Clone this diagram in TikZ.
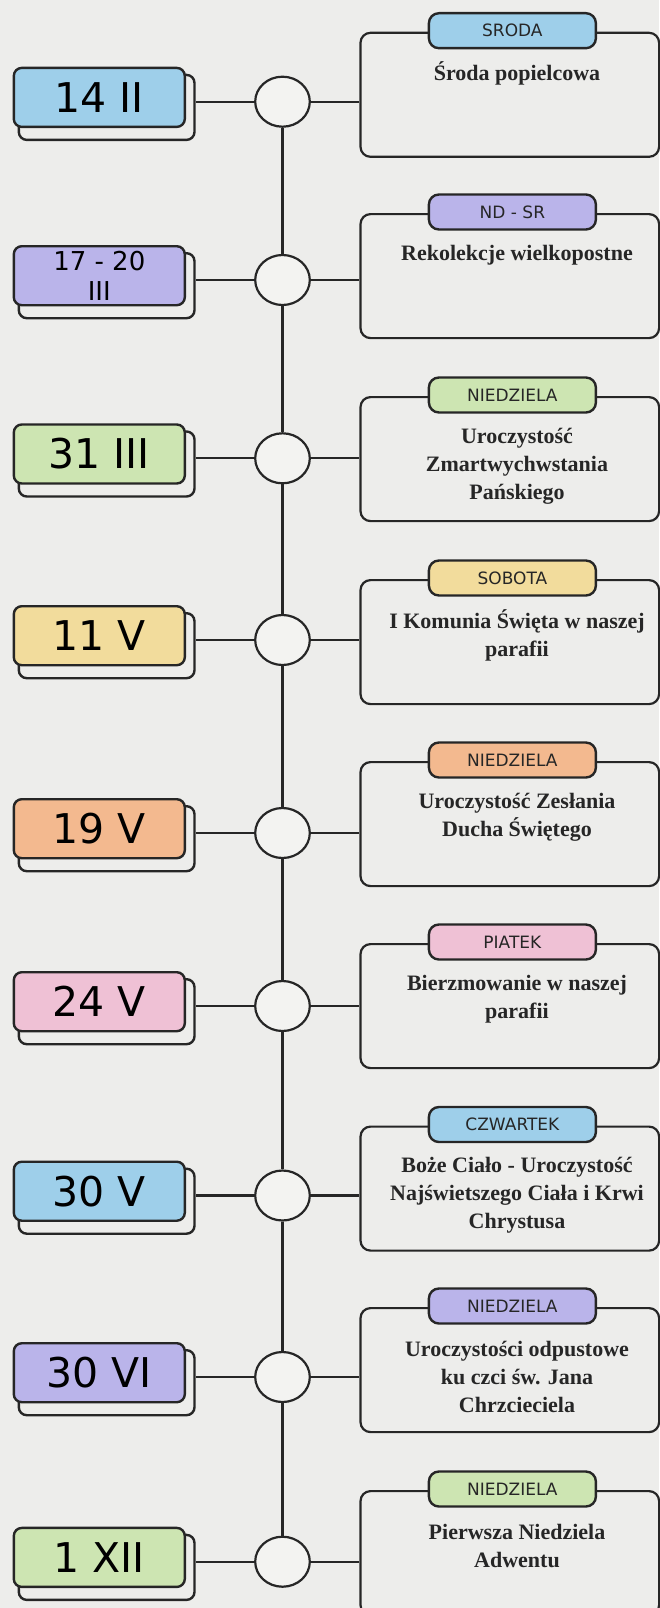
\documentclass[tikz,border=0pt]{standalone}
\usepackage{fontspec}
\usepackage{tikz}
\usetikzlibrary{shapes.geometric, positioning, calc}
\newfontfamily\dtfamily{DejaVu Sans}
\newfontfamily\tgfamily{DejaVu Sans}
\newfontfamily\evfamily{Liberation Serif}
\definecolor{paper}{RGB}{237,237,235}
\definecolor{dotfill}{RGB}{243,243,241}
\definecolor{inkdark}{RGB}{38,38,38}
\definecolor{lblue}{RGB}{158,207,234}
\definecolor{lpurple}{RGB}{186,180,234}
\definecolor{lgreen}{RGB}{205,229,178}
\definecolor{lyellow}{RGB}{242,220,156}
\definecolor{lorange}{RGB}{243,185,143}
\definecolor{lpink}{RGB}{239,193,213}
\tikzset{
  datebox/.style={rectangle,draw=inkdark,rounded corners=8pt,line width=2.4pt,minimum width=171pt,
    minimum height=59pt,anchor=north west,align=center,inner sep=0pt,text=black,
    font=\dtfamily\fontsize{41}{41}\selectfont},
  dateshadow/.style={rectangle,draw=inkdark,fill=paper,rounded corners=8pt,line width=2.4pt,
    minimum width=175.7pt,minimum height=65pt,anchor=north west},
  dot/.style={ellipse,draw=inkdark,fill=dotfill,minimum width=54.6pt,minimum height=50pt,
    line width=2.2pt,inner sep=0pt},
  eventbox/.style={rectangle,draw=inkdark,rounded corners=10pt,line width=2.2pt,
    minimum width=298.6pt,minimum height=124pt,anchor=north west},
  tagbox/.style={rectangle,draw=inkdark,rounded corners=10pt,line width=2.4pt,minimum width=167pt,
    minimum height=35pt,inner sep=0pt,text=inkdark,font=\tgfamily\fontsize{17}{17}\selectfont},
  evtext/.style={align=center,inner sep=0pt,text=inkdark,font=\evfamily\bfseries\fontsize{22}{28}\selectfont},
  line/.style={line width=2.2pt,color=inkdark}
}
\begin{document}
\begin{tikzpicture}[x=1pt,y=-1pt]
  \useasboundingbox (0,0) rectangle (659,1608);
  \fill[paper] (0,0) rectangle (659,1608);

  % 14 II
  \node[dateshadow] (s1) at (17.6,73.7) {};
  \node[datebox,fill=lblue] (d1) at (12.6,66.7) {14 II};
  \node[dot] (c1) at (282.5,101.7) {};
  \node[eventbox] (e1) at (359.4,31.7) {};
  \node[tagbox,fill=lblue] (g1) at (512.4,30.7) {SRODA};
  \node[evtext] (t1) at (517,73.7) {Środa popielcowa};

  % 17 - 20 III
  \node[dateshadow] (s2) at (17.6,252) {};
  \node[datebox,fill=lpurple,font=\dtfamily\fontsize{26}{30}\selectfont] (d2) at (12.6,245) {17 - 20\\III};
  \node[dot] (c2) at (282.5,280) {};
  \node[eventbox] (e2) at (359.4,213) {};
  \node[tagbox,fill=lpurple] (g2) at (512.4,212) {ND - SR};
  \node[evtext] (t2) at (517,255) {Rekolekcje wielkopostne};

  % 31 III
  \node[dateshadow] (s3) at (17.6,430.3) {};
  \node[datebox,fill=lgreen] (d3) at (12.6,423.3) {31 III};
  \node[dot] (c3) at (282.5,458.3) {};
  \node[eventbox] (e3) at (359.4,396) {};
  \node[tagbox,fill=lgreen] (g3) at (512.4,395) {NIEDZIELA};
  \node[evtext] (t3) at (517,466) {Uroczystość\\Zmartwychwstania\\Pańskiego};

  % 11 V
  \node[dateshadow] (s4) at (17.6,612) {};
  \node[datebox,fill=lyellow] (d4) at (12.6,605) {11 V};
  \node[dot] (c4) at (282.5,640) {};
  \node[eventbox] (e4) at (359.4,579) {};
  \node[tagbox,fill=lyellow] (g4) at (512.4,578) {SOBOTA};
  \node[evtext] (t4) at (517,635) {I Komunia Święta w naszej\\parafii};

  % 19 V
  \node[dateshadow] (s5) at (17.6,805) {};
  \node[datebox,fill=lorange] (d5) at (12.6,798) {19 V};
  \node[dot] (c5) at (282.5,833) {};
  \node[eventbox] (e5) at (359.4,761) {};
  \node[tagbox,fill=lorange] (g5) at (512.4,760) {NIEDZIELA};
  \node[evtext] (t5) at (517,817) {Uroczystość Zesłania\\Ducha Świętego};

  % 24 V
  \node[dateshadow] (s6) at (17.6,978) {};
  \node[datebox,fill=lpink] (d6) at (12.6,971) {24 V};
  \node[dot] (c6) at (282.5,1006) {};
  \node[eventbox] (e6) at (359.4,943) {};
  \node[tagbox,fill=lpink] (g6) at (512.4,942) {PIATEK};
  \node[evtext] (t6) at (517,999) {Bierzmowanie w naszej\\parafii};

  % 30 V
  \node[dateshadow] (s7) at (17.6,1167.5) {};
  \node[datebox,fill=lblue] (d7) at (12.6,1160.5) {30 V};
  \node[dot] (c7) at (282.5,1195.5) {};
  \node[eventbox] (e7) at (359.4,1125.5) {};
  \node[tagbox,fill=lblue] (g7) at (512.4,1124.5) {CZWARTEK};
  \node[evtext] (t7) at (517,1195.5) {Boże Ciało - Uroczystość\\Najświetszego Ciała i Krwi\\Chrystusa};

  % 30 VI
  \node[dateshadow] (s8) at (17.6,1349) {};
  \node[datebox,fill=lpurple] (d8) at (12.6,1342) {30 VI};
  \node[dot] (c8) at (282.5,1377) {};
  \node[eventbox] (e8) at (359.4,1307) {};
  \node[tagbox,fill=lpurple] (g8) at (512.4,1306) {NIEDZIELA};
  \node[evtext] (t8) at (517,1377) {Uroczystości odpustowe\\ku czci św. Jana\\Chrzcieciela};

  % 1 XII
  \node[dateshadow] (s9) at (17.6,1533.7) {};
  \node[datebox,fill=lgreen] (d9) at (12.6,1526.7) {1 XII};
  \node[dot] (c9) at (282.5,1561.7) {};
  \node[eventbox] (e9) at (359.4,1490) {};
  \node[tagbox,fill=lgreen] (g9) at (512.4,1489) {NIEDZIELA};
  \node[evtext] (t9) at (517,1546) {Pierwsza Niedziela\\Adwentu};

  % spine
  \draw[line] (c1) -- (c2) (c2) -- (c3) (c3) -- (c4) (c4) -- (c5)
    (c5) -- (c6) (c6) -- (c7) (c7) -- (c8) (c8) -- (c9);

  % branches
  \draw[line] (c1.west) -- (c1.west -| s1.east) (c1.east) -- (c1.east -| e1.west);
  \draw[line] (c2.west) -- (c2.west -| s2.east) (c2.east) -- (c2.east -| e2.west);
  \draw[line] (c3.west) -- (c3.west -| s3.east) (c3.east) -- (c3.east -| e3.west);
  \draw[line] (c4.west) -- (c4.west -| s4.east) (c4.east) -- (c4.east -| e4.west);
  \draw[line] (c5.west) -- (c5.west -| s5.east) (c5.east) -- (c5.east -| e5.west);
  \draw[line] (c6.west) -- (c6.west -| s6.east) (c6.east) -- (c6.east -| e6.west);
  \draw[line] (c7.west) -- (c7.west -| s7.east) (c7.east) -- (c7.east -| e7.west);
  \draw[line] (c8.west) -- (c8.west -| s8.east) (c8.east) -- (c8.east -| e8.west);
  \draw[line] (c9.west) -- (c9.west -| s9.east) (c9.east) -- (c9.east -| e9.west);
\end{tikzpicture}
\end{document}
